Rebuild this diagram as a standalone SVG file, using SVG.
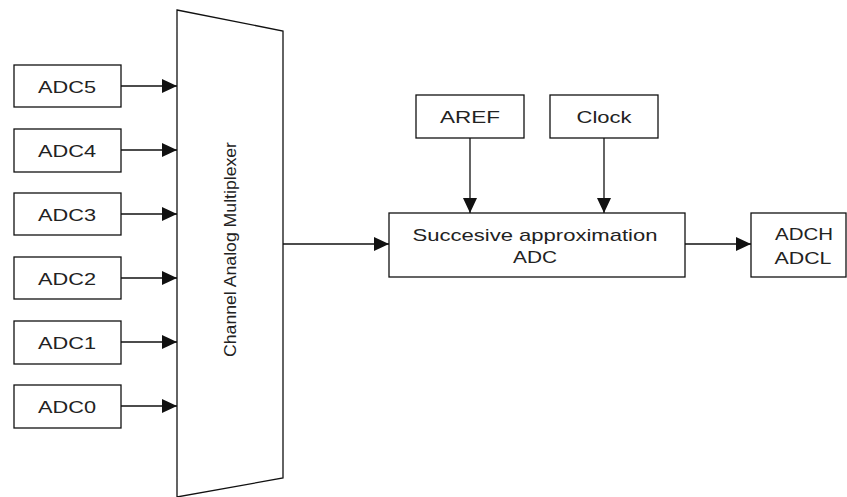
<svg xmlns="http://www.w3.org/2000/svg" width="847" height="497" viewBox="0 0 847 497">
<style>
.box{fill:#fff;stroke:#111;stroke-width:1.3}
.t{font-family:"Liberation Sans",Arial,sans-serif;font-size:17px;fill:#222;text-anchor:middle}
.c{stroke:#111;stroke-width:1.3;fill:none}
</style>
<defs>
<marker id="ah" markerUnits="userSpaceOnUse" markerWidth="16" markerHeight="14" refX="15" refY="7" orient="auto">
<path d="M0,0 L15,7 L0,14 Z" fill="#111"/>
</marker>
</defs>
<rect width="847" height="497" fill="#fff"/>
<g id="mux">
<path class="box" d="M177,10 L283,31 L283,478 L177,497 Z"/>
<text class="t" transform="translate(236,249.5) rotate(-90)" textLength="215" lengthAdjust="spacingAndGlyphs">Channel Analog Multiplexer</text>
</g>
<g id="adc5"><rect class="box" x="14" y="65" width="107" height="42"/><text class="t" x="67" y="93" textLength="58" lengthAdjust="spacingAndGlyphs">ADC5</text></g>
<g id="adc4"><rect class="box" x="14" y="129" width="107" height="43"/><text class="t" x="67" y="157" textLength="58" lengthAdjust="spacingAndGlyphs">ADC4</text></g>
<g id="adc3"><rect class="box" x="14" y="193" width="107" height="42"/><text class="t" x="67" y="221" textLength="58" lengthAdjust="spacingAndGlyphs">ADC3</text></g>
<g id="adc2"><rect class="box" x="14" y="257" width="107" height="42"/><text class="t" x="67" y="285" textLength="58" lengthAdjust="spacingAndGlyphs">ADC2</text></g>
<g id="adc1"><rect class="box" x="14" y="321" width="107" height="43"/><text class="t" x="67" y="349" textLength="58" lengthAdjust="spacingAndGlyphs">ADC1</text></g>
<g id="adc0"><rect class="box" x="14" y="385" width="107" height="43"/><text class="t" x="67" y="413" textLength="58" lengthAdjust="spacingAndGlyphs">ADC0</text></g>
<g id="aref"><rect class="box" x="416" y="95" width="108" height="43"/><text class="t" x="470" y="123" textLength="60" lengthAdjust="spacingAndGlyphs">AREF</text></g>
<g id="clock"><rect class="box" x="550" y="95" width="108" height="43"/><text class="t" x="604" y="123" textLength="55" lengthAdjust="spacingAndGlyphs">Clock</text></g>
<g id="sar"><rect class="box" x="389" y="213" width="296" height="64"/>
<text class="t" x="535" y="241" textLength="245" lengthAdjust="spacingAndGlyphs">Succesive approximation</text>
<text class="t" x="535" y="263" textLength="44" lengthAdjust="spacingAndGlyphs">ADC</text></g>
<g id="out"><rect class="box" x="751" y="213" width="95" height="64"/>
<text class="t" x="804" y="240" textLength="58" lengthAdjust="spacingAndGlyphs">ADCH</text>
<text class="t" x="803" y="264" textLength="57" lengthAdjust="spacingAndGlyphs">ADCL</text></g>
<g id="connectors">
<line class="c" x1="121" y1="86" x2="177" y2="86" marker-end="url(#ah)"/>
<line class="c" x1="121" y1="150" x2="177" y2="150" marker-end="url(#ah)"/>
<line class="c" x1="121" y1="214" x2="177" y2="214" marker-end="url(#ah)"/>
<line class="c" x1="121" y1="278" x2="177" y2="278" marker-end="url(#ah)"/>
<line class="c" x1="121" y1="342" x2="177" y2="342" marker-end="url(#ah)"/>
<line class="c" x1="121" y1="406" x2="177" y2="406" marker-end="url(#ah)"/>
<line class="c" x1="283" y1="244" x2="389" y2="244" marker-end="url(#ah)"/>
<line class="c" x1="470" y1="138" x2="470" y2="213" marker-end="url(#ah)"/>
<line class="c" x1="604" y1="138" x2="604" y2="213" marker-end="url(#ah)"/>
<line class="c" x1="685" y1="244" x2="751" y2="244" marker-end="url(#ah)"/>
</g>
</svg>
